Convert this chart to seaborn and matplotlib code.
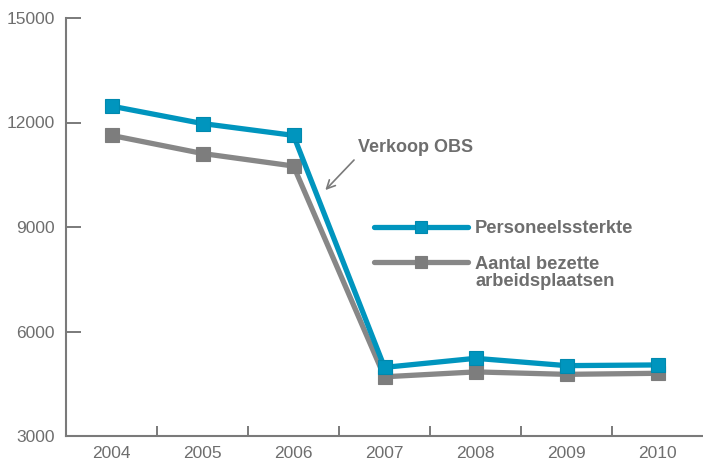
import matplotlib
matplotlib.use("Agg")
import matplotlib.pyplot as plt
import seaborn as sns
import pandas as pd
from matplotlib.ticker import FixedLocator

years = [2004, 2005, 2006, 2007, 2008, 2009, 2010]
personeel = [12470, 11970, 11630, 4970, 5230, 5020, 5040]
bezette = [11630, 11110, 10750, 4700, 4840, 4770, 4800]
series_names = ["Personeelssterkte", "Aantal bezette\narbeidsplaatsen"]
y_ticks = [3000, 6000, 9000, 12000, 15000]

BLUE = "#0095BE"
GRAY = "#878787"
TXT = "#6e6e6e"
AX = "#7a7a7a"

df = pd.DataFrame({
    "jaar": years * 2,
    "waarde": bezette + personeel,
    "reeks": [series_names[1]] * len(years) + [series_names[0]] * len(years),
})

sns.set_style("white")
plt.rcParams["font.family"] = ["Liberation Sans", "DejaVu Sans"]

fig = plt.figure(figsize=(7.03, 4.66), dpi=100)
ax = fig.add_axes([66 / 703, 30 / 466, 637 / 703, 418 / 466])

sns.lineplot(data=df, x="jaar", y="waarde", hue="reeks",
             hue_order=[series_names[1], series_names[0]],
             palette=[GRAY, BLUE], marker="s", markersize=10,
             linewidth=3.8, markeredgewidth=0.8, ax=ax, legend=False)
lines = ax.get_lines()
lines[0].set_markeredgecolor("#7d7d7d")
lines[0].set_markerfacecolor("#7d7d7d")
lines[1].set_markeredgecolor("#0089AE")
lines[1].set_markerfacecolor(BLUE)
lines[1].set_zorder(3)
lines[0].set_zorder(2.5)

ax.set_xlim(2003.5, 2010.5)
ax.set_ylim(3000, 15000)
ax.set_xlabel("")
ax.set_ylabel("")

ax.set_xticks(years)
ax.set_xticklabels([str(y) for y in years])
ax.xaxis.set_minor_locator(FixedLocator([y + 0.5 for y in years[:-1]]))
ax.set_yticks(y_ticks)
ax.set_yticklabels([str(v) for v in y_ticks])

ax.tick_params(axis="x", which="major", length=0, pad=7, labelsize=12.5, labelcolor=TXT)
ax.tick_params(axis="x", which="minor", direction="in", length=7, width=1.4, color=AX, bottom=True)
ax.tick_params(axis="y", which="major", direction="in", length=11, width=1.4, color=AX,
               pad=8, labelsize=12.5, labelcolor=TXT, left=True)

for s in ["top", "right"]:
    ax.spines[s].set_visible(False)
for s in ["left", "bottom"]:
    ax.spines[s].set_color(AX)
    ax.spines[s].set_linewidth(1.5)

ax.annotate("Verkoop OBS", xy=(2006.35, 10060), xytext=(2006.71, 11290),
            fontsize=13, fontweight="bold", color=TXT, va="center", ha="left",
            arrowprops=dict(arrowstyle="->", color=AX, lw=1.2, relpos=(0, 0),
                            shrinkA=1, shrinkB=0, mutation_scale=15))

handles = [lines[1], lines[0]]
leg = ax.legend(handles, ["Personeelssterkte", "Aantal bezette"],
                loc="upper left", bbox_to_anchor=(308 / 637, (436 - 220) / 418),
                frameon=False, fontsize=13.2, handlelength=5.1, handletextpad=0.4,
                labelspacing=1.03, borderpad=0, borderaxespad=0, markerscale=0.85)
for t in leg.get_texts():
    t.set_color(TXT)
    t.set_fontweight("bold")

ax.text(475 / 703, (466 - 281) / 466, "arbeidsplaatsen", transform=fig.transFigure,
        fontsize=13.2, fontweight="bold", color=TXT, va="center", ha="left")

fig.savefig("out.png", dpi=100)
